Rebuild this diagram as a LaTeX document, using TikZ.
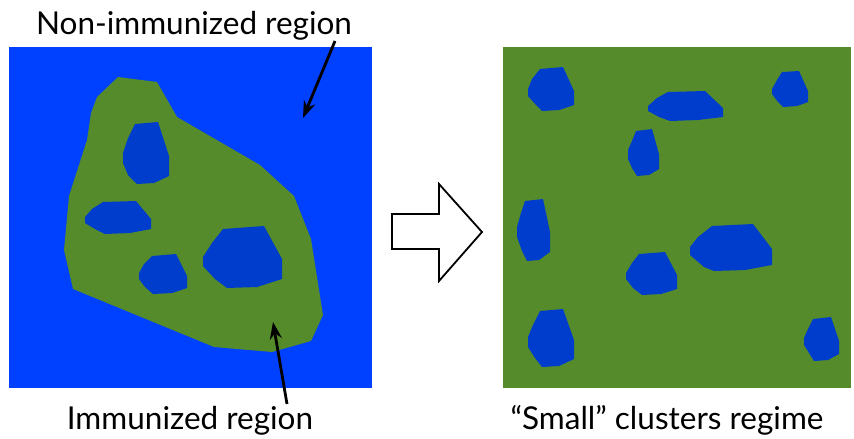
\documentclass[tikz,border=0pt]{standalone}
\usepackage{fontspec}
\setmainfont{Lato}
\usetikzlibrary{arrows.meta}
\definecolor{outerblue}{RGB}{0,64,255}
\definecolor{immgreen}{RGB}{85,139,43}
\definecolor{holeblue}{RGB}{0,61,204}
\tikzset{
  hole/.style={fill=holeblue, draw=none},
  lbl/.style={anchor=base, inner sep=0pt, font=\fontsize{31.5}{38}\selectfont},
  pointer/.style={draw=black, line width=2.8pt, -{Stealth[length=17pt,width=12pt]}},
  blockarrow/.style={draw=black, fill=white, line width=1.8pt, line join=miter}
}
\begin{document}
\begin{tikzpicture}[x=1pt,y=-1pt]
\useasboundingbox (0,0) rectangle (854,439);
% left panel
\fill[outerblue] (9,47) rectangle (372,388);
\fill[immgreen] (118,77) -- (157,82) -- (177,117) -- (260,165) -- (294,196) -- (311,239) -- (323,315) -- (311,341) -- (272,352) -- (214,347) -- (73,289) -- (64,250) -- (69,196) -- (87,140) -- (91,113) -- (97,97) -- cycle;
\fill[hole] (135,124) -- (158,122) -- (169,156) -- (169,176) -- (154,183) -- (137,184) -- (128,175) -- (123,163) -- (123,153) -- (128,138) -- cycle;
\fill[hole] (103,202) -- (136,201) -- (151,219) -- (151,229) -- (130,233) -- (105,234) -- (95,229) -- (85,223) -- (85,217) -- (92,209) -- cycle;
\fill[hole] (152,256) -- (176,254) -- (187,276) -- (187,288) -- (172,293) -- (153,294) -- (145,287) -- (139,279) -- (139,273) -- (144,264) -- cycle;
\fill[hole] (223,229) -- (264,226) -- (282,259) -- (282,279) -- (257,287) -- (227,288) -- (215,279) -- (203,266) -- (203,257) -- (212,243) -- cycle;
% right panel
\fill[immgreen] (503,47) rectangle (851,388);
\fill[hole] (540,69) -- (563,67) -- (574,91) -- (574,105) -- (559,110) -- (542,111) -- (536,105) -- (528,96) -- (528,89) -- (532,79) -- cycle;
\fill[hole] (668,92) -- (705,91) -- (723,108) -- (723,117) -- (698,120) -- (670,121) -- (659,117) -- (648,111) -- (648,106) -- (657,98) -- cycle;
\fill[hole] (782,72) -- (799,71) -- (808,91) -- (808,102) -- (797,106) -- (783,107) -- (778,102) -- (772,94) -- (772,89) -- (777,80) -- cycle;
\fill[hole] (636,131) -- (652,129) -- (659,154) -- (659,169) -- (649,175) -- (637,176) -- (632,168) -- (628,159) -- (628,150) -- (632,141) -- cycle;
\fill[hole] (525,201) -- (543,199) -- (550,232) -- (550,252) -- (539,260) -- (527,261) -- (522,251) -- (517,237) -- (517,227) -- (521,213) -- cycle;
\fill[hole] (712,226) -- (753,224) -- (772,249) -- (772,265) -- (745,270) -- (714,271) -- (704,267) -- (690,255) -- (690,247) -- (698,237) -- cycle;
\fill[hole] (639,254) -- (665,252) -- (677,275) -- (677,289) -- (661,294) -- (642,295) -- (633,288) -- (626,279) -- (626,273) -- (632,263) -- cycle;
\fill[hole] (540,311) -- (563,309) -- (574,340) -- (574,359) -- (559,366) -- (542,367) -- (535,358) -- (528,347) -- (528,337) -- (533,325) -- cycle;
\fill[hole] (813,319) -- (831,317) -- (839,341) -- (839,354) -- (828,360) -- (814,361) -- (809,353) -- (804,345) -- (804,338) -- (808,329) -- cycle;
% block arrow
\draw[blockarrow] (392,214) -- (439,214) -- (439,184) -- (482,232) -- (439,281) -- (439,249) -- (392,249) -- cycle;
% labels
\node[lbl] (nonimm) at (194,34) {Non-immunized region};
\node[lbl] (imm) at (190,429) {Immunized region};
\node[lbl] (small) at (667,429) {“Small” clusters regime};
% pointers
\coordinate (p1s) at (335,41);
\coordinate (p1e) at (303,118);
\coordinate (p2s) at (287,404);
\coordinate (p2e) at (273,322);
\draw[pointer] (p1s) -- (p1e);
\draw[pointer] (p2s) -- (p2e);
\end{tikzpicture}
\end{document}
